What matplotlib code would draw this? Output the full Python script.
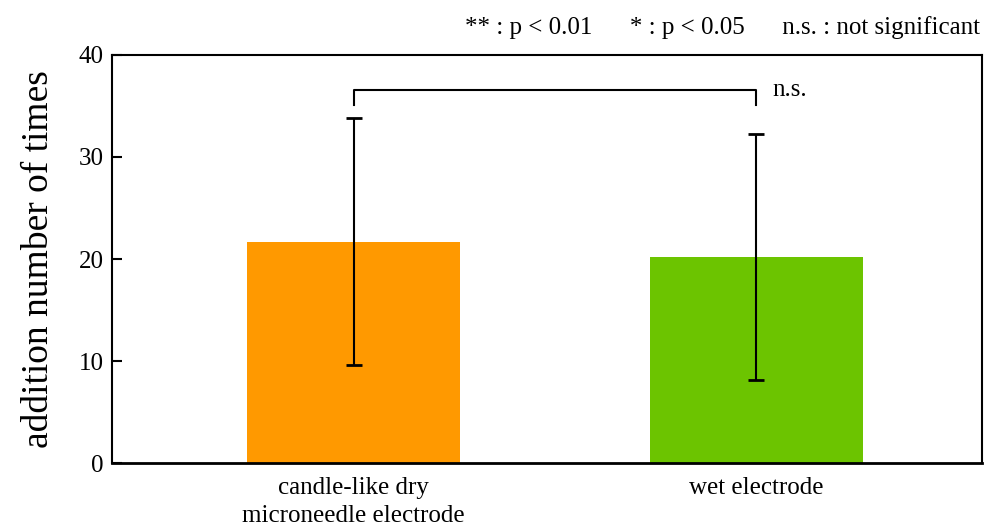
import numpy as np
import matplotlib.pyplot as plt

plt.rcParams['font.family'] = ['Liberation Serif', 'DejaVu Serif']

# data
categories = ['candle-like dry\nmicroneedle electrode', 'wet electrode']
means = [21.7, 20.2]
errors = [12.1, 12.05]
colors = ['#FF9900', '#6CC400']
yticks = [0, 10, 20, 30, 40]

fig = plt.figure(figsize=(9.84, 5.29), dpi=100)
ax = fig.add_axes([112/984, 1-463/529, 870/984, 408/529])

x = np.arange(len(categories))
ax.bar(x, means, width=0.53, color=colors, zorder=2)
ax.errorbar(x, means, yerr=errors, fmt='none', ecolor='black',
            elinewidth=1.5, capsize=6, capthick=2, zorder=3)

ax.set_xlim(-0.6, 1.56)
ax.set_ylim(0, 40)
ax.set_yticks(yticks)
ax.set_xticks(x)
ax.set_xticklabels(categories, fontsize=18, linespacing=1.35, va='top')
ax.tick_params(axis='x', length=0, pad=10)
ax.tick_params(axis='y', direction='in', length=7, width=1.5, labelsize=18, pad=6)
for s in ax.spines.values():
    s.set_linewidth(1.5)
ax.spines['bottom'].set_linewidth(2)

ax.set_ylabel('addition number of times', fontsize=27, labelpad=16)

# significance bracket
ax.plot([x[0], x[0], x[1], x[1]], [35.1, 36.6, 36.6, 35.1], color='black', lw=1.5)
ax.text(x[1] + 0.04, 36.6, 'n.s.', fontsize=18, va='center', ha='left')

fig.text(980/984, 1-28/529, '** : p < 0.01      * : p < 0.05      n.s. : not significant',
         fontsize=18, ha='right', va='center')

fig.savefig('out.png', dpi=100)
